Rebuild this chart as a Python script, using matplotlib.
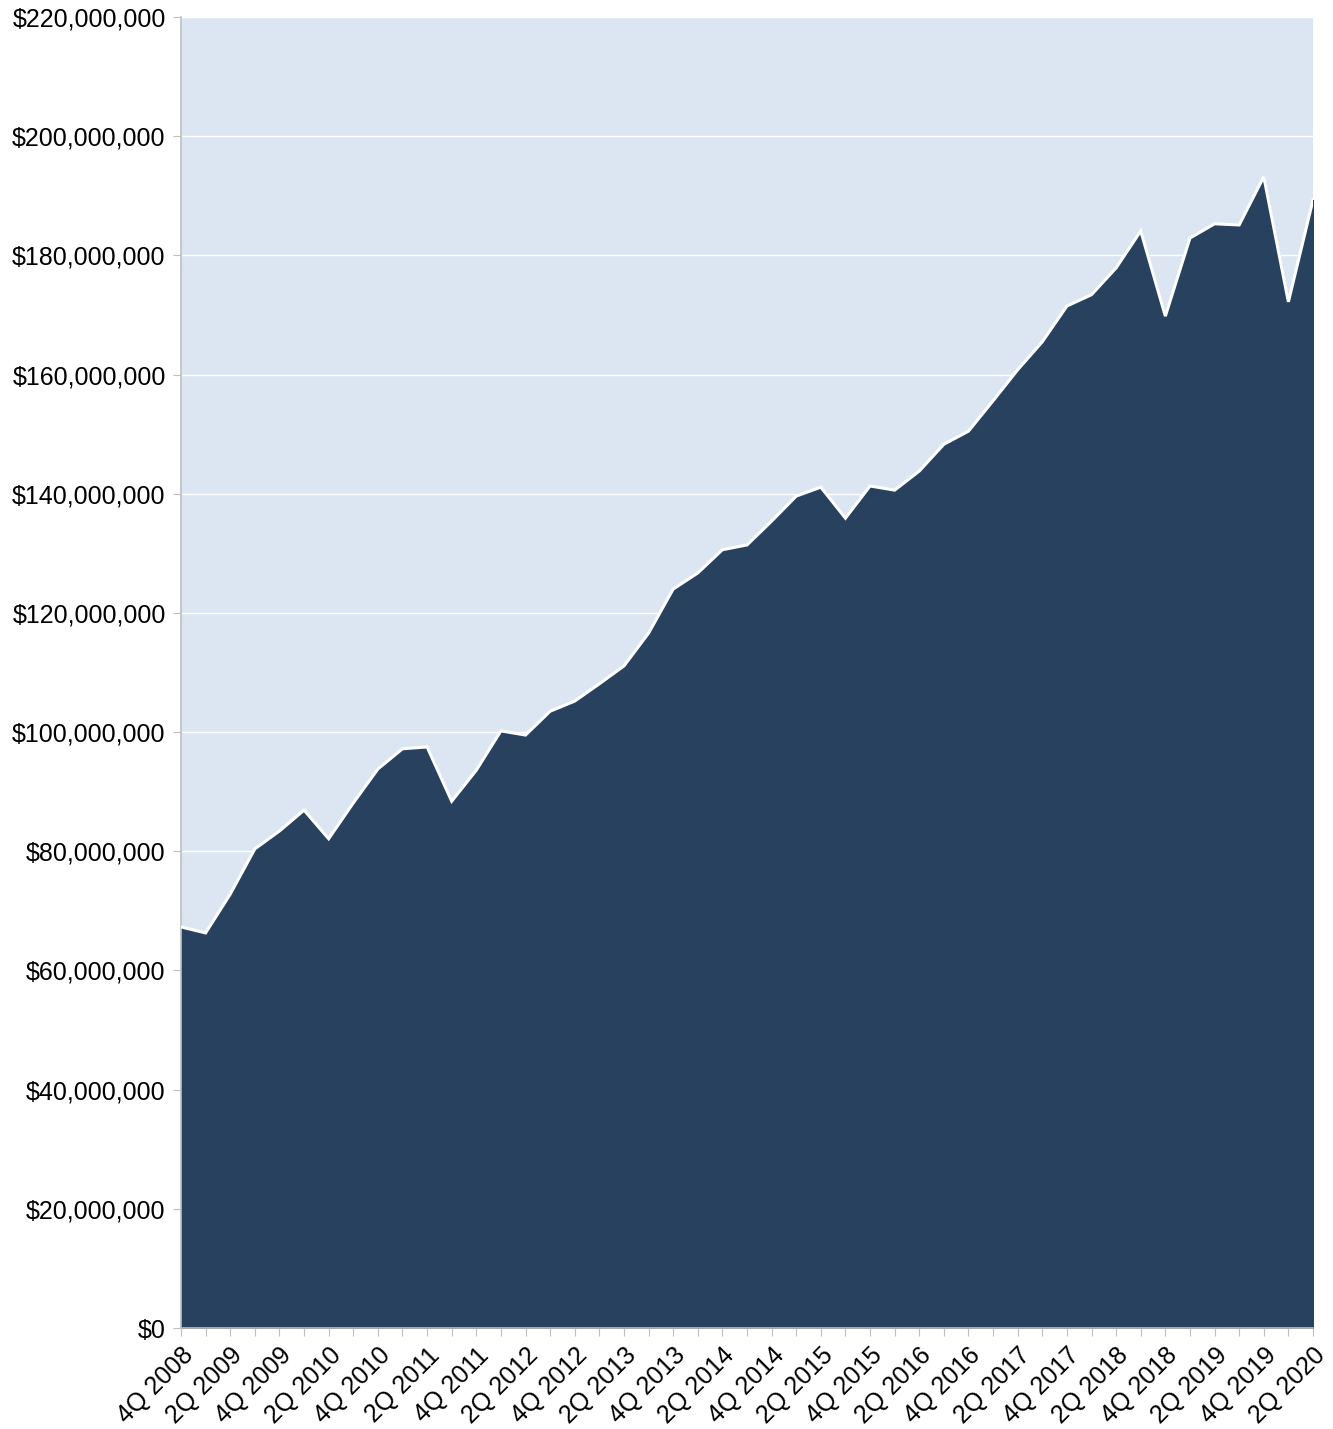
import matplotlib
matplotlib.use("Agg")
import matplotlib.pyplot as plt
from matplotlib.ticker import FuncFormatter, MultipleLocator

plt.rcParams['font.family'] = ['Liberation Sans', 'DejaVu Sans']

quarters = []
for y in range(2008, 2021):
    for q in range(1, 5):
        if (y == 2008 and q < 4) or (y == 2020 and q > 2):
            continue
        quarters.append(f"{q}Q {y}")

values_m = [67.3, 66.3, 72.8, 80.4, 83.4, 86.9, 82.1, 88.1, 93.8, 97.2,
            97.5, 88.4, 93.6, 100.2, 99.5, 103.5, 105.2, 108.1, 111.1, 116.6,
            124.0, 126.7, 130.6, 131.4, 135.4, 139.6, 141.1, 135.9, 141.3, 140.6,
            143.8, 148.3, 150.5, 155.6, 160.8, 165.5, 171.5, 173.4, 177.9, 184.1,
            169.8, 182.9, 185.3, 185.1, 193.2, 172.2, 189.3]
values = [v * 1e6 for v in values_m]

fig = plt.figure(figsize=(13.33, 14.29), dpi=100)
ax = fig.add_axes([181/1333, 101/1429, (1313-181)/1333, (1328-17)/1429])
ax.set_facecolor('#DCE6F2')

x = list(range(len(quarters)))
ax.fill_between(x, values, 0, color='#27415F', zorder=2)
ax.plot(x, values, color='white', lw=2.2, zorder=3, solid_joinstyle='miter')

ax.set_xlim(0, len(quarters) - 1)
ax.set_ylim(0, 220e6)
ax.yaxis.set_major_locator(MultipleLocator(20e6))
ax.yaxis.set_major_formatter(FuncFormatter(lambda v, p: f"${v:,.0f}"))
ax.grid(axis='y', color='white', lw=1, zorder=1)
ax.set_axisbelow(True)

ax.set_xticks(x)
ax.set_xticklabels([q if i % 2 == 0 else '' for i, q in enumerate(quarters)],
                   rotation=45, ha='right', rotation_mode='anchor', fontsize=18)
ax.tick_params(axis='x', length=6, color='#BFBFBF', pad=5)
ax.tick_params(axis='y', length=6, color='#BFBFBF', labelsize=18, pad=5)

for s in ['top', 'right']:
    ax.spines[s].set_visible(False)
for s in ['left', 'bottom']:
    ax.spines[s].set_color('#BFBFBF')
    ax.spines[s].set_linewidth(1.2)

fig.savefig('out.png', dpi=100, facecolor='white')
